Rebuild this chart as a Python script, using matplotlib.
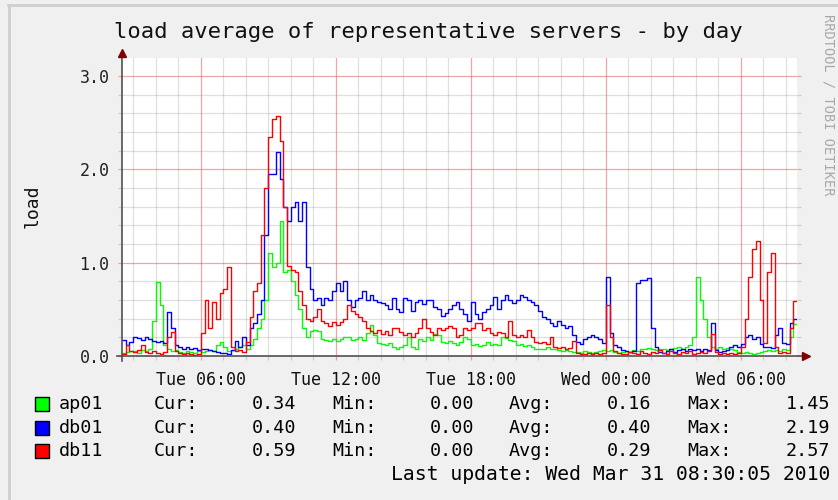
import pandas as pd
import matplotlib
matplotlib.use("Agg")
import matplotlib.pyplot as plt
import matplotlib.dates as mdates
from matplotlib.ticker import MultipleLocator, FormatStrFormatter
from matplotlib.patches import Rectangle
from matplotlib.lines import Line2D

W, H = 838, 500
MONO = "DejaVu Sans Mono"

# 10 minute samples from Tue 2010-03-30 02:30 to Wed 2010-03-31 08:30
start = "2010-03-30 02:30"
end = "2010-03-31 08:30"

ap01 = [
    0.03, 0.04, 0.05, 0.05, 0.03, 0.06,
    0.05, 0.08, 0.38, 0.79, 0.55, 0.12,
    0.07, 0.05, 0.06, 0.04, 0.03, 0.05,
    0.04, 0.03, 0.05, 0.04, 0.05, 0.06,
    0.05, 0.12, 0.15, 0.10, 0.05, 0.06,
    0.08, 0.10, 0.12, 0.07, 0.12, 0.18,
    0.30, 0.40, 0.60, 1.10, 0.95, 1.00,
    1.45, 0.90, 0.92, 0.80, 0.65, 0.50,
    0.30, 0.20, 0.27, 0.28, 0.27, 0.18,
    0.17, 0.16, 0.18, 0.16, 0.18, 0.20,
    0.20, 0.17, 0.18, 0.20, 0.17, 0.25,
    0.33, 0.22, 0.14, 0.13, 0.12, 0.14,
    0.10, 0.08, 0.10, 0.12, 0.20, 0.10,
    0.08, 0.18, 0.16, 0.20, 0.17, 0.24,
    0.22, 0.15, 0.14, 0.16, 0.14, 0.12,
    0.15, 0.20, 0.18, 0.12, 0.13, 0.11,
    0.12, 0.15, 0.12, 0.13, 0.12, 0.20,
    0.19, 0.17, 0.16, 0.12, 0.13, 0.11,
    0.12, 0.10, 0.07, 0.07, 0.08, 0.10,
    0.08, 0.07, 0.06, 0.05, 0.06, 0.05,
    0.04, 0.04, 0.03, 0.05, 0.04, 0.03,
    0.04, 0.05, 0.06, 0.05, 0.06, 0.04,
    0.03, 0.04, 0.05, 0.04, 0.06, 0.05,
    0.08, 0.07, 0.09, 0.08, 0.06, 0.07,
    0.08, 0.06, 0.07, 0.09, 0.10, 0.08,
    0.10, 0.12, 0.20, 0.85, 0.60, 0.40,
    0.20, 0.10, 0.08, 0.10, 0.07, 0.09,
    0.08, 0.06, 0.04, 0.03, 0.04, 0.03,
    0.02, 0.03, 0.04, 0.05, 0.06, 0.05,
    0.06, 0.05, 0.07, 0.06, 0.20, 0.34,
]

db01 = [
    0.17, 0.12, 0.15, 0.20, 0.19, 0.17,
    0.20, 0.18, 0.16, 0.15, 0.16, 0.14,
    0.47, 0.30, 0.12, 0.10, 0.08, 0.10,
    0.07, 0.09, 0.06, 0.08, 0.07, 0.06,
    0.05, 0.04, 0.03, 0.03, 0.02, 0.06,
    0.16, 0.10, 0.20, 0.12, 0.30, 0.35,
    0.45, 0.60, 1.30, 1.95, 1.95, 2.19,
    1.90, 1.60, 1.45, 1.60, 1.65, 1.45,
    1.65, 0.95, 0.72, 0.60, 0.62, 0.55,
    0.62, 0.60, 0.70, 0.78, 0.70, 0.80,
    0.60, 0.52, 0.60, 0.62, 0.70, 0.60,
    0.65, 0.60, 0.58, 0.57, 0.55, 0.50,
    0.62, 0.50, 0.47, 0.62, 0.60, 0.48,
    0.58, 0.60, 0.56, 0.60, 0.60, 0.53,
    0.50, 0.43, 0.46, 0.50, 0.55, 0.58,
    0.50, 0.45, 0.38, 0.58, 0.45, 0.40,
    0.47, 0.50, 0.55, 0.63, 0.50, 0.60,
    0.65, 0.60, 0.57, 0.60, 0.65, 0.63,
    0.60, 0.58, 0.55, 0.48, 0.42, 0.40,
    0.35, 0.32, 0.37, 0.33, 0.30, 0.32,
    0.22, 0.15, 0.13, 0.18, 0.20, 0.22,
    0.20, 0.18, 0.14, 0.85, 0.25, 0.12,
    0.10, 0.06, 0.05, 0.04, 0.05, 0.78,
    0.82, 0.82, 0.84, 0.30, 0.10, 0.04,
    0.03, 0.05, 0.07, 0.04, 0.06, 0.08,
    0.05, 0.07, 0.06, 0.08, 0.05, 0.07,
    0.06, 0.35, 0.06, 0.04, 0.05, 0.06,
    0.10, 0.12, 0.10, 0.13, 0.20, 0.22,
    0.18, 0.20, 0.13, 0.10, 0.10, 0.09,
    0.22, 0.30, 0.14, 0.13, 0.35, 0.40,
]

db11 = [
    0.02, 0.12, 0.05, 0.04, 0.06, 0.12,
    0.04, 0.03, 0.05, 0.03, 0.02, 0.04,
    0.20, 0.26, 0.05, 0.03, 0.02, 0.03,
    0.02, 0.01, 0.02, 0.25, 0.60, 0.30,
    0.58, 0.40, 0.68, 0.72, 0.95, 0.10,
    0.05, 0.06, 0.04, 0.15, 0.42, 0.70,
    0.78, 1.30, 1.80, 2.35, 2.54, 2.57,
    2.30, 1.60, 0.97, 0.92, 0.90, 0.70,
    0.55, 0.40, 0.38, 0.42, 0.50, 0.38,
    0.35, 0.32, 0.36, 0.33, 0.36, 0.40,
    0.55, 0.48, 0.45, 0.42, 0.38, 0.30,
    0.27, 0.25, 0.28, 0.24, 0.27, 0.22,
    0.30, 0.30, 0.26, 0.22, 0.25, 0.20,
    0.25, 0.30, 0.40, 0.30, 0.26, 0.23,
    0.30, 0.28, 0.30, 0.32, 0.30, 0.20,
    0.22, 0.30, 0.28, 0.30, 0.35, 0.35,
    0.28, 0.30, 0.25, 0.23, 0.26, 0.25,
    0.20, 0.38, 0.22, 0.20, 0.22, 0.20,
    0.28, 0.20, 0.15, 0.14, 0.15, 0.13,
    0.20, 0.10, 0.09, 0.10, 0.08, 0.09,
    0.16, 0.03, 0.02, 0.02, 0.03, 0.02,
    0.03, 0.02, 0.03, 0.55, 0.20, 0.05,
    0.03, 0.02, 0.02, 0.04, 0.03, 0.02,
    0.05, 0.03, 0.02, 0.04, 0.03, 0.06,
    0.03, 0.02, 0.05, 0.03, 0.02, 0.04,
    0.03, 0.05, 0.02, 0.03, 0.04, 0.03,
    0.05, 0.24, 0.04, 0.02, 0.03, 0.02,
    0.03, 0.02, 0.03, 0.10, 0.40, 0.85,
    1.15, 1.23, 0.60, 0.14, 0.90, 1.10,
    0.10, 0.03, 0.04, 0.03, 0.30, 0.59,
]

names = ["ap01", "db01", "db11"]
colors = ["#00ff00", "#0000ff", "#ff0000"]
cur_vals = ["0.34", "0.40", "0.59"]
min_vals = ["0.00", "0.00", "0.00"]
avg_vals = ["0.16", "0.40", "0.29"]
max_vals = ["1.45", "2.19", "2.57"]


def fx(x):
    return x / W


def fy(y):
    return 1 - y / H


fig = plt.figure(figsize=(W / 100, H / 100), dpi=100, facecolor="#f0f0f0")

# canvas: x 122..797 px, y 0 at 356 px
ax = fig.add_axes([fx(122), fy(356), (797 - 122) / W, (356 - 58.4) / H])
ax.set_facecolor("white")

times = pd.date_range(start, periods=len(ap01) + 1, freq="10min")
for vals, c in zip([ap01, db01, db11], colors):
    ax.step(times, vals + [vals[-1]], where="post", color=c, lw=1.0, zorder=3)

ax.set_xlim(pd.Timestamp(start), pd.Timestamp(end))
ax.set_ylim(0, 3.19)

ax.xaxis.set_major_locator(mdates.HourLocator(byhour=[0, 6, 12, 18]))
ax.xaxis.set_minor_locator(mdates.HourLocator())
ax.xaxis.set_major_formatter(mdates.DateFormatter("%a %H:%M"))
ax.yaxis.set_major_locator(MultipleLocator(1.0))
ax.yaxis.set_minor_locator(MultipleLocator(0.2))
ax.yaxis.set_major_formatter(FormatStrFormatter("%.1f"))

ax.set_axisbelow(True)
ax.grid(which="minor", color="#8f8f8f", alpha=0.28, lw=0.9)
ax.grid(which="major", color="#de5151", alpha=0.5, lw=0.9)

for s in ax.spines.values():
    s.set_visible(False)

ax.tick_params(axis="y", which="both", left=True, right=True, direction="out", length=3, width=0.9)
ax.tick_params(axis="y", which="major", color="#de515180", labelsize=12, pad=6,
               labelcolor="#222222")
ax.tick_params(axis="y", which="minor", color="#8f8f8f60")
ax.tick_params(axis="x", which="both", bottom=True, direction="out", length=3, width=0.9)
ax.tick_params(axis="x", which="major", color="#de515180", labelsize=12, pad=8,
               labelcolor="#111111")
ax.tick_params(axis="x", which="minor", color="#8f8f8f60")
for lab in ax.get_xticklabels() + ax.get_yticklabels():
    lab.set_family(MONO)

# axes with arrows
axis_col = "#555050"
fig.add_artist(Line2D([fx(117), fx(806)], [fy(356), fy(356)], color=axis_col, lw=1.2))
fig.add_artist(Line2D([fx(122), fx(122)], [fy(361), fy(54)], color=axis_col, lw=1.2))
fig.add_artist(Line2D([fx(806)], [fy(356)], marker=">", ms=6, color="#7f0000", lw=0))
fig.add_artist(Line2D([fx(122)], [fy(53)], marker="^", ms=6, color="#7f0000", lw=0))

# frame shading
fig.add_artist(Line2D([fx(8), fx(838)], [fy(5), fy(5)], color="#cfcfcf", lw=2))
fig.add_artist(Line2D([fx(9), fx(9)], [fy(5), fy(500)], color="#cfcfcf", lw=2))

fig.text(fx(428), fy(32), "load average of representative servers - by day",
         family=MONO, fontsize=16, ha="center", va="center", color="#111111")
fig.text(fx(33), fy(206), "load", family=MONO, fontsize=13, rotation=90,
         ha="center", va="center", color="#111111")
fig.text(fx(828), fy(105), "RRDTOOL / TOBI OETIKER", family=MONO, fontsize=9.8,
         rotation=270, ha="center", va="center", color="#a8a8a8")

# legend
rows_y = [404, 428, 451]
for i, y in enumerate(rows_y):
    fig.add_artist(Rectangle((fx(35), fy(y + 7)), 14 / W, 14 / H, facecolor=colors[i],
                             edgecolor="black", lw=1, transform=fig.transFigure))
    fig.text(fx(59), fy(y), names[i], family=MONO, fontsize=13.2, va="center")
    fig.text(fx(154), fy(y), "Cur:", family=MONO, fontsize=13.2, va="center")
    fig.text(fx(296), fy(y), cur_vals[i], family=MONO, fontsize=13.2, va="center", ha="right")
    fig.text(fx(332), fy(y), "Min:", family=MONO, fontsize=13.2, va="center")
    fig.text(fx(474), fy(y), min_vals[i], family=MONO, fontsize=13.2, va="center", ha="right")
    fig.text(fx(509), fy(y), "Avg:", family=MONO, fontsize=13.2, va="center")
    fig.text(fx(651), fy(y), avg_vals[i], family=MONO, fontsize=13.2, va="center", ha="right")
    fig.text(fx(687), fy(y), "Max:", family=MONO, fontsize=13.2, va="center")
    fig.text(fx(830), fy(y), max_vals[i], family=MONO, fontsize=13.2, va="center", ha="right")

fig.text(fx(830), fy(474), "Last update: Wed Mar 31 08:30:05 2010", family=MONO,
         fontsize=14.2, va="center", ha="right")

fig.savefig("out.png", dpi=100, facecolor=fig.get_facecolor())
